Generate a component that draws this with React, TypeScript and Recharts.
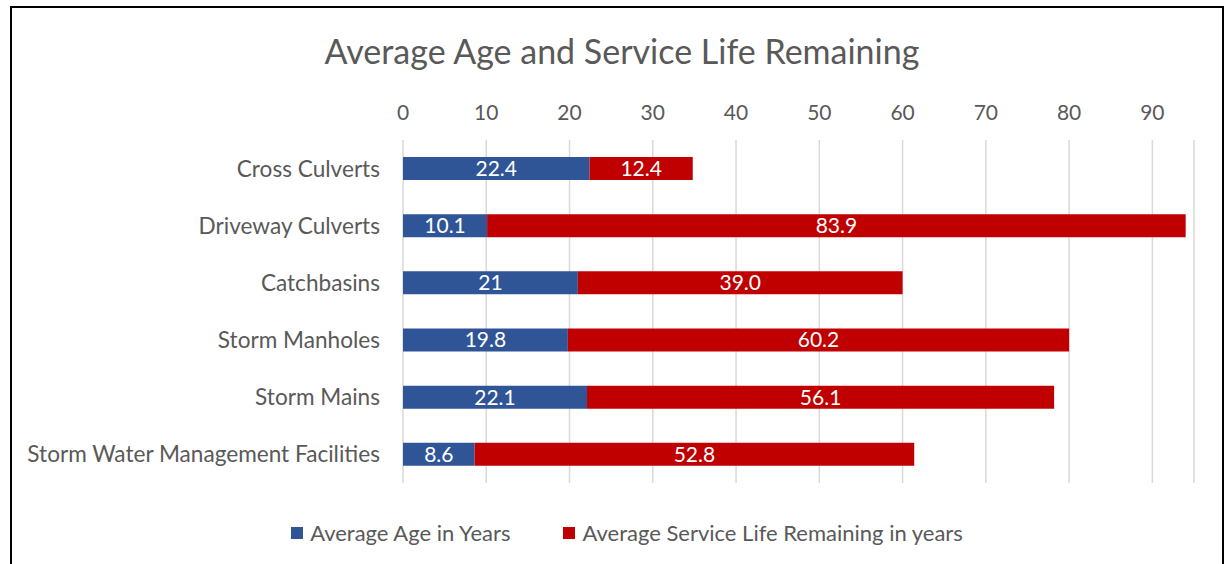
import { BarChart, Bar, XAxis, YAxis, CartesianGrid, LabelList } from "recharts";

const categories = [
  "Cross Culverts",
  "Driveway Culverts",
  "Catchbasins",
  "Storm Manholes",
  "Storm Mains",
  "Storm Water Management Facilities",
];
const averageAge = [22.4, 10.1, 21, 19.8, 22.1, 8.6];
const lifeRemaining = [12.4, 83.9, 39.0, 60.2, 56.1, 52.8];
const xTicks = [0, 10, 20, 30, 40, 50, 60, 70, 80, 90];

const AGE_COLOR = "#2F5597";
const REMAIN_COLOR = "#C00000";
const TEXT_COLOR = "#595959";
const FONT = "Lato, 'Open Sans', sans-serif";

const data = categories.map((name, i) => ({
  name,
  age: averageAge[i],
  remaining: lifeRemaining[i],
}));

function LegendRow() {
  const items = [
    { label: "Average Age in Years", color: AGE_COLOR },
    { label: "Average Service Life Remaining in years", color: REMAIN_COLOR },
  ];
  return (
    <div style={{ display: "flex", justifyContent: "center", gap: 53, paddingLeft: 30 }}>
      {items.map((it) => (
        <div key={it.label} style={{ display: "flex", alignItems: "center", gap: 7 }}>
          <span style={{ width: 12, height: 12, background: it.color, display: "inline-block" }} />
          <span style={{ fontSize: 22, color: TEXT_COLOR }}>{it.label}</span>
        </div>
      ))}
    </div>
  );
}

export default function App() {
  return (
    <div style={{ position: "absolute", left: 0, top: 0, width: 1224, height: 564, overflow: "hidden", background: "#fff", fontFamily: FONT }}>
      {/* frame */}
      <div style={{ position: "absolute", left: 10, top: 6, width: 1210, height: 600, border: "2px solid #000" }} />
      <div style={{ position: "absolute", left: 0, top: 30, width: 1244, textAlign: "center", fontSize: 34, color: TEXT_COLOR }}>
        Average Age and Service Life Remaining
      </div>
      <div style={{ position: "absolute", left: 0, top: 0 }}>
        <BarChart
          width={1224}
          height={564}
          data={data}
          layout="vertical"
          barSize={23}
          margin={{ top: 110, right: 30, bottom: 81, left: 0 }}
        >
          <CartesianGrid horizontal={false} stroke="#D9D9D9" strokeWidth={1.5} />
          <XAxis
            type="number"
            orientation="top"
            domain={[0, 95]}
            ticks={xTicks}
            height={30}
            axisLine={false}
            tickLine={false}
            tickSize={0}
            tickMargin={20}
            tick={{ fill: TEXT_COLOR, fontSize: 21, fontFamily: FONT }}
          />
          <YAxis
            type="category"
            dataKey="name"
            width={403}
            axisLine={false}
            tickLine={false}
            tickSize={0}
            tickMargin={23}
            tick={{ fill: TEXT_COLOR, fontSize: 22.6, fontFamily: FONT }}
          />
          <Bar dataKey="age" stackId="a" fill={AGE_COLOR} isAnimationActive={false}>
            <LabelList dataKey="age" position="center" fill="#fff" fontSize={21} fontFamily={FONT} formatter={(v: number) => String(v)} />
          </Bar>
          <Bar dataKey="remaining" stackId="a" fill={REMAIN_COLOR} isAnimationActive={false}>
            <LabelList dataKey="remaining" position="center" fill="#fff" fontSize={21} fontFamily={FONT} formatter={(v: number) => v.toFixed(1)} />
          </Bar>
        </BarChart>
      </div>
      <div style={{ position: "absolute", left: 0, top: 519, width: 1224 }}>
        <LegendRow />
      </div>
    </div>
  );
}
